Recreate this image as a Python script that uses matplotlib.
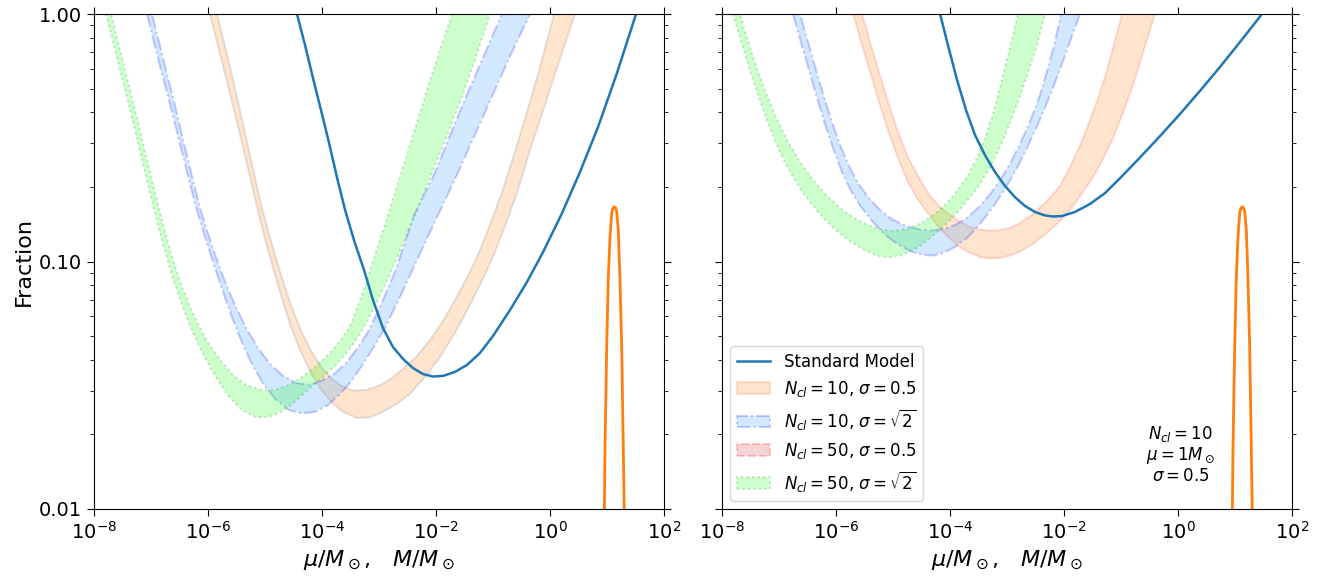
import matplotlib
matplotlib.use("Agg")
import matplotlib.pyplot as plt
from matplotlib.colors import to_rgba
from matplotlib.patches import Patch
from matplotlib.lines import Line2D
from matplotlib.ticker import FormatStrFormatter, NullLocator, NullFormatter

# ---- left panel -------------------------------------------------------
sm_l_m = [3.64e-5, 5.04e-5, 6.95e-5, 9.6e-5, 1.33e-4, 1.83e-4, 2.54e-4, 3.64e-4, 5.46e-4,
          7.85e-4, 1.17e-3, 1.76e-3, 2.64e-3, 3.95e-3, 5.9e-3, 8.85e-3, 0.0133, 0.0215,
          0.035, 0.0591, 0.1, 0.199, 0.394, 0.753, 1.63, 3.36, 6.95, 15.0, 32.3]
sm_l_f = [1.0, 0.749, 0.551, 0.409, 0.301, 0.219, 0.1615, 0.122, 0.0924,
          0.0699, 0.0539, 0.0451, 0.0404, 0.0371, 0.0351, 0.0343, 0.0345, 0.0358,
          0.0382, 0.0427, 0.050, 0.0637, 0.0826, 0.109, 0.157, 0.230, 0.349, 0.578, 1.0]

org_l_lo_m = [1.08e-6, 1.76e-6, 2.86e-6, 4.65e-6, 7.24e-6, 1.04e-5, 1.5e-5, 2.07e-5, 2.86e-5,
              4.11e-5, 6.15e-5, 9.2e-5, 1.44e-4, 2.33e-4, 4.11e-4, 6.95e-4, 1.17e-3, 2.07e-3,
              3.5e-3, 6.41e-3, 0.0117, 0.0215, 0.0394, 0.0668, 0.108, 0.176, 0.275, 0.446,
              0.724, 1.13, 1.76, 2.75]
org_l_lo_f = [1.0, 0.640, 0.409, 0.257, 0.166, 0.1188, 0.0882, 0.0686, 0.0544,
              0.0439, 0.0361, 0.0308, 0.0271, 0.0247, 0.0233, 0.0235, 0.0247, 0.0266,
              0.0292, 0.0341, 0.0411, 0.0514, 0.0667, 0.0850, 0.109, 0.1459, 0.1945, 0.282,
              0.394, 0.541, 0.736, 1.0]
org_l_hi_m = [1.44e-6, 2.33e-6, 3.64e-6, 5.68e-6, 8.85e-6, 1.33e-5, 1.99e-5, 2.86e-5, 4.11e-5,
              6.15e-5, 9.2e-5, 1.44e-4, 2.24e-4, 3.5e-4, 5.92e-4, 1.04e-3, 1.69e-3, 2.64e-3,
              4.65e-3, 7.85e-3, 0.0133, 0.0215, 0.0364, 0.0591, 0.0923, 0.144, 0.224, 0.350,
              0.524, 0.785, 1.175]
org_l_hi_f = [1.0, 0.640, 0.409, 0.257, 0.1645, 0.1167, 0.0858, 0.0667, 0.0539,
              0.0443, 0.0382, 0.0338, 0.0314, 0.0301, 0.0303, 0.0316, 0.0338, 0.0368,
              0.0415, 0.0482, 0.0575, 0.0699, 0.0874, 0.111, 0.1444, 0.191, 0.262, 0.366,
              0.502, 0.702, 1.0]

blu_l_lo_m = [8.5e-8, 1.38e-7, 2.34e-7, 3.79e-7, 6.15e-7, 9.2e-7, 1.33e-6, 1.91e-6, 2.75e-6,
              4.11e-6, 6.15e-6, 9.6e-6, 1.56e-5, 2.64e-5, 4.46e-5, 7.54e-5, 1.27e-4, 2.15e-4,
              3.5e-4, 5.68e-4, 8.5e-4, 1.27e-3, 2.33e-3, 4.65e-3, 0.01084, 0.0254, 0.0524,
              0.108, 0.215, 0.446]
blu_l_lo_f = [1.0, 0.640, 0.402, 0.257, 0.166, 0.1222, 0.0942, 0.0733, 0.058,
              0.046, 0.0378, 0.0317, 0.0276, 0.0251, 0.0243, 0.0247, 0.0263, 0.0294,
              0.0335, 0.0396, 0.046, 0.0539, 0.0719, 0.1014, 0.154, 0.234, 0.34,
              0.493, 0.702, 1.0]
blu_l_hi_m = [1.04e-7, 1.69e-7, 2.75e-7, 4.46e-7, 7.24e-7, 1.13e-6, 1.76e-6, 2.86e-6, 4.65e-6,
              7.53e-6, 1.22e-5, 2.07e-5, 3.5e-5, 5.9e-5, 9.6e-5, 1.63e-4, 2.64e-4, 4.11e-4,
              6.41e-4, 1.04e-3, 1.91e-3, 4.11e-3, 9.2e-3, 0.0183, 0.0364, 0.0724, 0.144]
blu_l_hi_f = [1.0, 0.640, 0.409, 0.257, 0.1645, 0.1188, 0.089, 0.068, 0.0539,
              0.0448, 0.0385, 0.0345, 0.0323, 0.0318, 0.0329, 0.0351, 0.0389, 0.0443,
              0.0519, 0.0655, 0.0907, 0.154, 0.2237, 0.330, 0.484, 0.695, 1.0]

grn_l_lo_m = [1.62e-8, 2.64e-8, 4.29e-8, 6.68e-8, 1.08e-7, 1.56e-7, 2.34e-7, 3.5e-7, 5.2e-7,
              8.5e-7, 1.44e-6, 2.43e-6, 4.11e-6, 6.95e-6, 1.175e-5, 2.07e-5, 3.64e-5, 6.15e-5,
              1.04e-4, 1.76e-4, 2.98e-4, 4.83e-4, 7.85e-4, 1.27e-3, 2.07e-3, 3.8e-3, 7.24e-3,
              0.0138, 0.0264, 0.0483, 0.0885]
grn_l_lo_f = [1.0, 0.640, 0.409, 0.269, 0.169, 0.1222, 0.0874, 0.0667, 0.0529,
              0.0415, 0.0335, 0.0281, 0.0249, 0.0235, 0.0235, 0.0249, 0.0276, 0.0308,
              0.0341, 0.0382, 0.0439, 0.0519, 0.0637, 0.0804, 0.1033, 0.1444, 0.2075,
              0.301, 0.441, 0.652, 1.0]
grn_l_hi_m = [1.99e-8, 3.23e-8, 5.24e-8, 8.5e-8, 1.38e-7, 2.15e-7, 3.5e-7, 5.68e-7, 9.6e-7,
              1.625e-6, 2.75e-6, 4.65e-6, 8.5e-6, 1.5e-5, 2.64e-5, 4.46e-5, 7.54e-5, 1.27e-4,
              2.07e-4, 3.1e-4, 5.04e-4, 8.5e-4, 1.44e-3, 2.33e-3, 3.95e-3, 6.95e-3, 0.01175,
              0.0191]
grn_l_hi_f = [1.0, 0.640, 0.409, 0.257, 0.1645, 0.111, 0.0788, 0.0602, 0.0477,
              0.040, 0.0348, 0.0317, 0.0303, 0.0303, 0.0317, 0.0341, 0.0375, 0.0419,
              0.0477, 0.0549, 0.0733, 0.1062, 0.154, 0.2195, 0.324, 0.493, 0.715, 1.0]

# ---- right panel ------------------------------------------------------
sm_r_m = [6.7e-5, 9.2e-5, 1.33e-4, 1.91e-4, 2.75e-4, 4.11e-4, 6.15e-4, 9.2e-4, 1.38e-3,
          2.07e-3, 3.1e-3, 4.65e-3, 6.4e-3, 9.2e-3, 0.0156, 0.0286, 0.0524, 0.096, 0.215,
          0.483, 1.08, 2.43, 5.46, 12.2, 29.8]
sm_r_f = [1.0, 0.749, 0.541, 0.409, 0.324, 0.269, 0.230, 0.202, 0.182,
          0.1676, 0.1585, 0.1535, 0.152, 0.1527, 0.1585, 0.1708, 0.189, 0.217, 0.263,
          0.321, 0.394, 0.489, 0.611, 0.770, 1.0]

org_r_lo_m = [1.99e-6, 2.86e-6, 4.11e-6, 5.9e-6, 8.5e-6, 1.22e-5, 1.76e-5, 2.64e-5, 3.95e-5,
              5.9e-5, 8.85e-5, 1.33e-4, 1.99e-4, 3.36e-4, 5.04e-4, 7.5e-4, 1.13e-3, 1.69e-3,
              2.86e-3, 5.04e-3, 8.5e-3, 0.0144, 0.0215, 0.0323, 0.0483, 0.0724, 0.108, 0.163,
              0.233, 0.323, 0.394]
org_r_lo_f = [1.0, 0.749, 0.567, 0.429, 0.330, 0.262, 0.2135, 0.1805, 0.1585,
              0.1403, 0.1268, 0.1167, 0.1096, 0.1042, 0.1028, 0.1033, 0.1057, 0.1096,
              0.1178, 0.1303, 0.1459, 0.1676, 0.191, 0.219, 0.2596, 0.3155, 0.398, 0.516,
              0.676, 0.862, 1.0]
org_r_hi_m = [2.86e-6, 4.11e-6, 5.9e-6, 8.5e-6, 1.22e-5, 1.83e-5, 2.98e-5, 4.46e-5, 6.7e-5,
              1.0e-4, 1.5e-4, 2.24e-4, 3.36e-4, 5.04e-4, 7.5e-4, 1.13e-3, 1.69e-3, 2.86e-3,
              5.04e-3, 8.5e-3, 0.01225, 0.0176, 0.0254, 0.0364, 0.0524, 0.0724, 0.104]
org_r_hi_f = [1.0, 0.749, 0.567, 0.429, 0.334, 0.264, 0.2135, 0.184, 0.166,
              0.154, 0.1444, 0.1378, 0.1347, 0.1334, 0.134, 0.1366, 0.143, 0.1556,
              0.1755, 0.2018, 0.2365, 0.2823, 0.346, 0.433, 0.556, 0.729, 1.0]

blu_r_lo_m = [1.76e-7, 2.43e-7, 3.36e-7, 4.65e-7, 6.41e-7, 8.85e-7, 1.27e-6, 1.83e-6, 2.75e-6,
              4.29e-6, 6.95e-6, 1.175e-5, 1.99e-5, 3.36e-5, 5.04e-5, 7.54e-5, 1.22e-4, 1.99e-4,
              3.36e-4, 5.68e-4, 9.2e-4, 1.44e-3, 2.24e-3, 3.5e-3, 5.46e-3, 8.17e-3, 0.01175,
              0.0169, 0.0191]
blu_r_lo_f = [1.0, 0.770, 0.594, 0.458, 0.359, 0.2875, 0.230, 0.1927, 0.166,
              0.1459, 0.1291, 0.1178, 0.1102, 0.1062, 0.1057, 0.1082, 0.1144, 0.1245,
              0.1418, 0.166, 0.1963, 0.2342, 0.2875, 0.359, 0.458, 0.583, 0.736,
              0.929, 1.0]
blu_r_hi_m = [2.34e-7, 3.23e-7, 4.46e-7, 6.15e-7, 8.5e-7, 1.175e-6, 1.69e-6, 2.43e-6, 3.64e-6,
              5.9e-6, 1.0e-5, 1.69e-5, 2.98e-5, 4.83e-5, 7.85e-5, 1.27e-4, 2.07e-4, 3.36e-4,
              5.24e-4, 7.85e-4, 1.17e-3, 1.76e-3, 2.64e-3, 3.8e-3, 5.24e-3, 6.95e-3, 8.85e-3]
blu_r_hi_f = [1.0, 0.770, 0.594, 0.462, 0.366, 0.296, 0.243, 0.2075, 0.1822,
              0.1615, 0.1472, 0.1391, 0.1347, 0.1334, 0.1353, 0.141, 0.1513, 0.1676,
              0.189, 0.2155, 0.2523, 0.304, 0.3765, 0.471, 0.605, 0.770, 1.0]

grn_r_lo_m = [1.56e-8, 2.07e-8, 2.86e-8, 4.11e-8, 6.15e-8, 9.6e-8, 1.56e-7, 2.64e-7, 4.65e-7,
              8.5e-7, 1.625e-6, 3.1e-6, 5.46e-6, 8.85e-6, 1.44e-5, 2.43e-5, 4.11e-5, 6.95e-5,
              1.175e-4, 1.91e-4, 3.1e-4, 4.83e-4, 7.24e-4, 1.08e-3, 1.56e-3, 2.24e-3, 3.23e-3,
              4.65e-3]
grn_r_lo_f = [1.0, 0.80, 0.628, 0.484, 0.373, 0.2875, 0.230, 0.189, 0.160,
              0.1378, 0.1222, 0.1113, 0.1052, 0.1038, 0.1062, 0.1124, 0.1222, 0.1353,
              0.1527, 0.1739, 0.200, 0.2365, 0.285, 0.3527, 0.441, 0.562, 0.729, 1.0]
grn_r_hi_m = [2.07e-8, 2.75e-8, 3.8e-8, 5.46e-8, 8.5e-8, 1.38e-7, 2.34e-7, 4.11e-7, 7.53e-7,
              1.44e-6, 2.75e-6, 5.24e-6, 9.6e-6, 1.76e-5, 3.1e-5, 5.24e-5, 8.5e-5, 1.33e-4,
              1.99e-4, 2.86e-4, 4.11e-4, 5.68e-4, 7.5e-4, 1.0e-3, 1.27e-3, 1.56e-3]
grn_r_hi_f = [1.0, 0.80, 0.634, 0.502, 0.391, 0.310, 0.2523, 0.2115, 0.1805,
              0.1585, 0.1444, 0.136, 0.1328, 0.1353, 0.143, 0.1548, 0.1708, 0.1927,
              0.2195, 0.257, 0.3155, 0.394, 0.502, 0.652, 0.815, 1.0]

# cluster mass distribution (same in both panels)
peak_m = [8.97, 9.23, 9.88, 10.5, 11.3, 12.1, 12.7, 13.4, 14.1, 14.8, 15.8, 16.9, 18.1, 19.3, 20.1]
peak_f = [0.0096, 0.0178, 0.0453, 0.0842, 0.126, 0.157, 0.164, 0.1665, 0.165, 0.159,
          0.134, 0.0842, 0.0453, 0.0178, 0.0096]

labels = ["Standard Model",
          r"$N_{cl}=10$, $\sigma=0.5$",
          r"$N_{cl}=10$, $\sigma=\sqrt{2}$",
          r"$N_{cl}=50$, $\sigma=0.5$",
          r"$N_{cl}=50$, $\sigma=\sqrt{2}$"]

A = 0.2
st_org_l = dict(facecolor=to_rgba("C1", A), edgecolor=to_rgba("0.5", A), lw=1.5)
st_org_r = dict(facecolor=to_rgba("C1", A), edgecolor=to_rgba("r", 0.13), lw=1.5)
st_blu = dict(facecolor=to_rgba("dodgerblue", A), edgecolor=to_rgba("b", A), lw=1.5, ls="-.")
st_red = dict(facecolor=to_rgba("C3", A), edgecolor=to_rgba("r", A), lw=1.5, ls="--")
st_grn = dict(facecolor=to_rgba("lime", A), edgecolor=to_rgba("g", A), lw=1.5, ls=":")


def band(ax, lo_m, lo_f, hi_m, hi_f, style):
    ax.fill(lo_m + hi_m[::-1], lo_f + hi_f[::-1], **style)


fig = plt.figure(figsize=(13.3, 5.76), dpi=100)
ax1 = fig.add_axes([94 / 1330, 67 / 576, 570 / 1330, 495 / 576])
ax2 = fig.add_axes([722 / 1330, 67 / 576, 570 / 1330, 495 / 576])

band(ax1, org_l_lo_m, org_l_lo_f, org_l_hi_m, org_l_hi_f, st_org_l)
band(ax1, blu_l_lo_m, blu_l_lo_f, blu_l_hi_m, blu_l_hi_f, st_blu)
band(ax1, grn_l_lo_m, grn_l_lo_f, grn_l_hi_m, grn_l_hi_f, st_grn)
ax1.plot(sm_l_m, sm_l_f, color="C0", lw=1.8)
ax1.plot(peak_m, peak_f, color="C1", lw=2)

band(ax2, org_r_lo_m, org_r_lo_f, org_r_hi_m, org_r_hi_f, st_org_r)
band(ax2, blu_r_lo_m, blu_r_lo_f, blu_r_hi_m, blu_r_hi_f, st_blu)
band(ax2, grn_r_lo_m, grn_r_lo_f, grn_r_hi_m, grn_r_hi_f, st_grn)
ax2.plot(sm_r_m, sm_r_f, color="C0", lw=1.8)
ax2.plot(peak_m, peak_f, color="C1", lw=2)

for ax in (ax1, ax2):
    ax.set_xscale("log")
    ax.set_yscale("log")
    ax.set_xlim(1e-8, 1e2)
    ax.set_ylim(0.01, 1.0)
    ax.set_xticks([1e-8, 1e-6, 1e-4, 1e-2, 1e0, 1e2])
    ax.xaxis.set_minor_locator(NullLocator())
    ax.set_yticks([0.01, 0.1, 1.0])
    ax.yaxis.set_major_formatter(FormatStrFormatter("%.2f"))
    ax.yaxis.set_minor_formatter(NullFormatter())
    ax.tick_params(which="both", top=True, right=True, direction="out", labelsize=14)
    ax.tick_params(which="major", length=5)
    ax.tick_params(which="minor", length=3)
    ax.set_xlabel(r"$\mu/M_\odot$,   $M/M_\odot$", fontsize=16)

ax1.set_ylabel("Fraction", fontsize=16)
ax2.tick_params(labelleft=False)

handles = [Line2D([], [], color="C0", lw=1.8),
           Patch(**st_org_l | dict(edgecolor=to_rgba("C1", A))),
           Patch(**st_blu),
           Patch(**st_red),
           Patch(**st_grn)]
ax2.legend(handles, labels, loc="lower left", fontsize=12)

ax2.text(0.805, 0.11, "$N_{cl}=10$\n$\\mu=1M_\\odot$\n$\\sigma=0.5$",
         transform=ax2.transAxes, ha="center", va="center",
         multialignment="center", fontsize=12, linespacing=1.05)

fig.savefig("out.png", dpi=100)
